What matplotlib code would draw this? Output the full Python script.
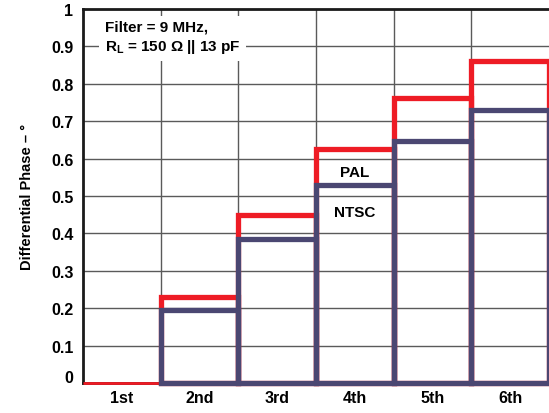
import matplotlib.pyplot as plt
import matplotlib.transforms as mtransforms

plt.rcParams['font.family'] = ['Liberation Sans', 'DejaVu Sans']
plt.rcParams['font.weight'] = 'bold'
plt.rcParams['mathtext.default'] = 'regular'

harmonics = ["1st", "2nd", "3rd", "4th", "5th", "6th"]
pal = [0.0, 0.23, 0.45, 0.625, 0.763, 0.862]
ntsc = [0.0, 0.195, 0.385, 0.53, 0.647, 0.731]

red = "#ee1c25"
navy = "#4b4772"

fig = plt.figure(figsize=(5.49, 4.14), dpi=100)
ax = fig.add_axes([0.1512, 0.0725, 0.8488, 0.9033])

x = range(len(harmonics))

# grid
for v in [0.1, 0.2, 0.3, 0.4, 0.5, 0.6, 0.7, 0.8, 0.9]:
    ax.axhline(v, color="#5a5a5a", lw=1.0, zorder=1)
for b in [0.5, 1.5, 2.5, 3.5, 4.5]:
    ax.axvline(b, color="#5a5a5a", lw=1.0, zorder=1)

# outlined bars, PAL under NTSC
ax.bar(x, pal, width=1.0, fill=False, edgecolor=red,
       linewidth=[2] + [3.8] * 5, zorder=3, clip_on=False)
ax.bar(x, ntsc, width=1.0, fill=False, edgecolor=navy,
       linewidth=[0] + [3.8] * 5, zorder=4, clip_on=False)

ax.set_xlim(-0.5, 5.5)
ax.set_ylim(0, 1)
ax.set_xticks(list(x))
ax.set_xticklabels(harmonics, fontsize=11.5, fontweight="bold")
ax.set_yticks([0, 0.1, 0.2, 0.3, 0.4, 0.5, 0.6, 0.7, 0.8, 0.9, 1])
ax.set_yticklabels(["0", "0.1", "0.2", "0.3", "0.4", "0.5", "0.6", "0.7",
                    "0.8", "0.9", "1"], fontsize=11.5, fontweight="bold")
ax.tick_params(length=0, pad=7)
ax.tick_params(axis="x", pad=5)

# raise the "0" label a little like the original
lbl0 = ax.get_yticklabels()[0]
lbl0.set_transform(lbl0.get_transform() +
                   mtransforms.ScaledTranslation(0, 5 / 72, fig.dpi_scale_trans))

ax.set_ylabel("Differential Phase – °", fontsize=10.5, fontweight="bold", labelpad=12)

for side in ["left", "top", "bottom"]:
    ax.spines[side].set_linewidth(2)
    ax.spines[side].set_color("#1a1a1a")
ax.spines["right"].set_visible(False)

ax.text(0.047, 0.972, "Filter = 9 MHz,\nR$_L$ = 150 Ω || 13 pF", transform=ax.transAxes,
        fontsize=11, fontweight="bold", va="top", ha="left", linespacing=1.3,
        bbox=dict(facecolor="white", edgecolor="none", pad=4), zorder=5)

ax.text(3, 0.564, "PAL", ha="center", va="center", fontsize=11, fontweight="bold", zorder=5)
ax.text(3, 0.457, "NTSC", ha="center", va="center", fontsize=11, fontweight="bold", zorder=5)

fig.savefig("out.png", dpi=100)
